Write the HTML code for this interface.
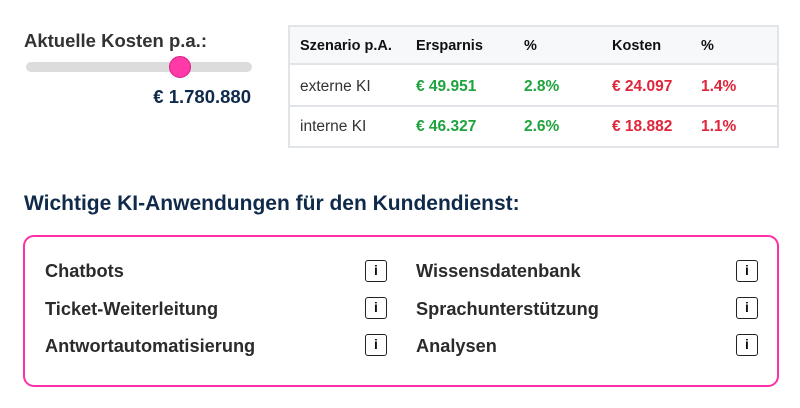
<!DOCTYPE html>
<html><head><meta charset="utf-8"><style>
*{margin:0;padding:0;box-sizing:border-box}
body{width:800px;height:408px;background:#fff;font-family:"Liberation Sans",sans-serif;position:relative;overflow:hidden}
.a{position:absolute;white-space:nowrap}
.g{color:#1fa33d;font-weight:bold}
.r{color:#e0253b;font-weight:bold}
.h{font-weight:bold;color:#111}
.c{color:#333}
.it{font-weight:bold;color:#2b2b2b;font-size:18.2px}
.ic{position:absolute;width:22px;height:22px;border:1.5px solid #222;border-radius:3px;font-size:14px;font-weight:bold;text-align:center;line-height:19px;color:#111}
</style></head><body>
<div class="a" style="left:24px;top:30px;font-size:18.5px;font-weight:bold;color:#333">Aktuelle Kosten p.a.:</div>
<div class="a" style="left:26px;top:62px;width:226px;height:10px;background:#dcdcdc;border-radius:5px"></div>
<div class="a" style="left:169px;top:56px;width:22px;height:22px;background:#ff3aa8;border:1px solid #d81f85;border-radius:50%"></div>
<div class="a" style="left:100px;top:86px;width:151px;text-align:right;font-size:18.5px;font-weight:bold;color:#0f2a4a">€ 1.780.880</div>

<div class="a" style="left:288px;top:25px;width:491px;height:123px;border:2px solid #e1e5ea;background:#fff"></div>
<div class="a" style="left:290px;top:27px;width:487px;height:38px;background:#f7f8fa;border-bottom:2px solid #e1e5ea"></div>
<div class="a" style="left:290px;top:105px;width:487px;height:2px;background:#e1e5ea"></div>
<div class="a h" style="left:300px;top:38px;font-size:14.5px">Szenario p.A.</div>
<div class="a h" style="left:416px;top:38px;font-size:14.5px">Ersparnis</div>
<div class="a h" style="left:524px;top:38px;font-size:14.5px">%</div>
<div class="a h" style="left:612px;top:38px;font-size:14.5px">Kosten</div>
<div class="a h" style="left:701px;top:38px;font-size:14.5px">%</div>
<div class="a c" style="left:300px;top:78px;font-size:15.5px">externe KI</div>
<div class="a g" style="left:416px;top:78px;font-size:15.5px">€ 49.951</div>
<div class="a g" style="left:524px;top:78px;font-size:15.5px">2.8%</div>
<div class="a r" style="left:612px;top:78px;font-size:15.5px">€ 24.097</div>
<div class="a r" style="left:701px;top:78px;font-size:15.5px">1.4%</div>
<div class="a c" style="left:300px;top:118px;font-size:15.5px">interne KI</div>
<div class="a g" style="left:416px;top:118px;font-size:15.5px">€ 46.327</div>
<div class="a g" style="left:524px;top:118px;font-size:15.5px">2.6%</div>
<div class="a r" style="left:612px;top:118px;font-size:15.5px">€ 18.882</div>
<div class="a r" style="left:701px;top:118px;font-size:15.5px">1.1%</div>

<div class="a" style="left:24px;top:192px;font-size:21px;font-weight:bold;color:#0f2a4a">Wichtige KI-Anwendungen für den Kundendienst:</div>
<div class="a" style="left:23px;top:235px;width:756px;height:152px;border:2.5px solid #ff2fa8;border-radius:11px"></div>
<div class="a it" style="left:45px;top:261px">Chatbots</div>
<div class="a it" style="left:45px;top:299px">Ticket-Weiterleitung</div>
<div class="a it" style="left:45px;top:336px">Antwortautomatisierung</div>
<div class="a it" style="left:416px;top:261px">Wissensdatenbank</div>
<div class="a it" style="left:416px;top:299px">Sprachunterstützung</div>
<div class="a it" style="left:416px;top:336px">Analysen</div>
<div class="ic" style="left:365px;top:260px">i</div>
<div class="ic" style="left:365px;top:297px">i</div>
<div class="ic" style="left:365px;top:334px">i</div>
<div class="ic" style="left:736px;top:260px">i</div>
<div class="ic" style="left:736px;top:297px">i</div>
<div class="ic" style="left:736px;top:334px">i</div>
</body></html>
